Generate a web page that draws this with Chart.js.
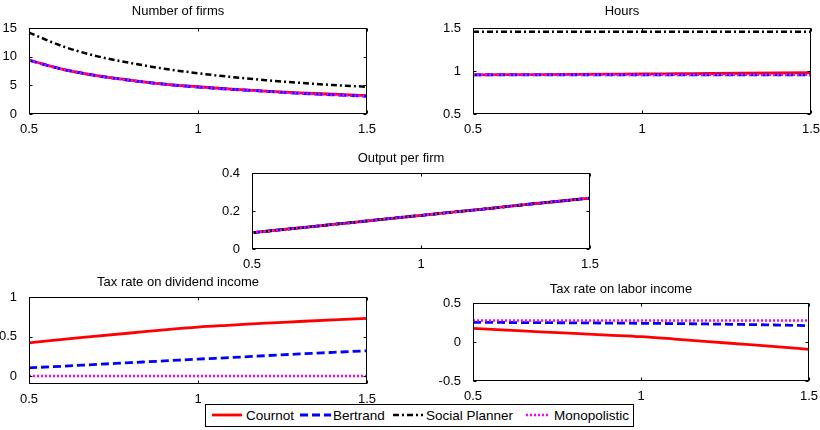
<!DOCTYPE html>
<html>
<head>
<meta charset="utf-8">
<script src="https://cdn.jsdelivr.net/npm/chart.js@4.4.0/dist/chart.umd.min.js"></script>
<style>
  body { margin: 0; background: #fff; width: 820px; height: 430px; position: relative; overflow: hidden;
         font-family: "Liberation Sans", Arial, sans-serif; }
  canvas { position: absolute; }
  #legend { position: absolute; left: 205px; top: 404px; width: 427px; height: 21px;
            border: 1px solid #000; font-size: 13.5px; color: #000; }
  #legend svg, #legend span { position: absolute; }
  #legend span { top: 3px; white-space: nowrap; }
  #legend svg { top: 5px; }
</style>
</head>
<body>
<div id="legend"></div>
<script>
// x grid shared by every panel (parameter from 0.5 to 1.5)
const xValues = [0.5, 0.6, 0.7, 0.8, 0.9, 1.0, 1.1, 1.2, 1.3, 1.4, 1.5];
const xTicks = [0.5, 1, 1.5];

// Number of firms
const firmsCournot = [9.4, 7.8, 6.7, 5.9, 5.2, 4.75, 4.35, 4.0, 3.7, 3.45, 3.2];
const firmsBertrand = [9.35, 7.8, 6.7, 5.85, 5.2, 4.7, 4.3, 3.95, 3.6, 3.35, 3.1];
const firmsPlanner = [14.2, 11.8, 10.1, 8.9, 7.9, 7.1, 6.45, 5.9, 5.45, 5.05, 4.75];
const firmsMonop = [9.35, 7.8, 6.7, 5.85, 5.2, 4.7, 4.3, 3.95, 3.6, 3.35, 3.1];
const firmsTicks = [0, 5, 10, 15];

// Hours
const hoursCournot = [0.955, 0.957, 0.959, 0.961, 0.963, 0.965, 0.968, 0.971, 0.974, 0.977, 0.98];
const hoursBertrand = [0.955, 0.955, 0.955, 0.955, 0.955, 0.955, 0.955, 0.955, 0.955, 0.955, 0.955];
const hoursPlanner = [1.455, 1.455, 1.455, 1.455, 1.455, 1.455, 1.455, 1.455, 1.455, 1.455, 1.455];
const hoursMonop = [0.955, 0.955, 0.955, 0.955, 0.955, 0.955, 0.955, 0.955, 0.955, 0.955, 0.955];
const hoursTicks = [0.5, 1, 1.5];

// Output per firm
const outputCournot = [0.086, 0.104, 0.122, 0.140, 0.159, 0.177, 0.195, 0.213, 0.232, 0.250, 0.268];
const outputBertrand = [0.086, 0.104, 0.122, 0.140, 0.159, 0.177, 0.195, 0.213, 0.232, 0.250, 0.268];
const outputPlanner = [0.086, 0.104, 0.122, 0.140, 0.159, 0.177, 0.195, 0.213, 0.232, 0.250, 0.268];
const outputMonop = [0.086, 0.104, 0.122, 0.140, 0.159, 0.177, 0.195, 0.213, 0.232, 0.250, 0.268];
const outputTicks = [0, 0.2, 0.4];

// Tax rate on dividend income
const divCournot = [0.42, 0.465, 0.505, 0.545, 0.585, 0.62, 0.645, 0.67, 0.69, 0.71, 0.73];
const divBertrand = [0.105, 0.125, 0.148, 0.17, 0.192, 0.215, 0.235, 0.258, 0.28, 0.30, 0.32];
const divMonop = [0, 0, 0, 0, 0, 0, 0, 0, 0, 0, 0];
const divTicks = [0, 0.5, 1];

// Tax rate on labor income
const laborCournot = [0.175, 0.153, 0.131, 0.11, 0.089, 0.068, 0.038, 0.006, -0.027, -0.06, -0.094];
const laborBertrand = [0.252, 0.25, 0.248, 0.246, 0.243, 0.24, 0.236, 0.231, 0.225, 0.218, 0.21];
const laborMonop = [0.275, 0.275, 0.275, 0.275, 0.275, 0.275, 0.275, 0.275, 0.275, 0.275, 0.275];
const laborTicks = [-0.5, 0, 0.5];

const styles = {
  'Cournot':        { color: '#ff0000', dash: [],           width: 2.8, order: 4 },
  'Bertrand':       { color: '#0000ff', dash: [8, 4],       width: 2.8, order: 3 },
  'Social Planner': { color: '#000000', dash: [6, 3, 2, 3], width: 2.5, order: 2 },
  'Monopolistic':   { color: '#ff00ff', dash: [2, 2],       width: 2.5, order: 1 }
};

const font = '"Liberation Sans", Arial, sans-serif';

// MATLAB-like box with inward ticks on all four sides
const boxPlugin = {
  id: 'matlabBox',
  afterDraw(chart) {
    const { ctx, chartArea: a, scales: { x, y } } = chart;
    ctx.save();
    ctx.strokeStyle = '#000';
    ctx.lineWidth = 1;
    const L = Math.round(a.left) + 0.5, R = Math.round(a.right) - 0.5;
    const T = Math.round(a.top) + 0.5, B = Math.round(a.bottom) - 0.5;
    ctx.strokeRect(L, T, R - L, B - T);
    ctx.beginPath();
    x.ticks.forEach(t => {
      const px = Math.round(x.getPixelForValue(t.value)) + 0.5;
      ctx.moveTo(px, B); ctx.lineTo(px, B - 3);
      ctx.moveTo(px, T); ctx.lineTo(px, T + 3);
    });
    y.ticks.forEach(t => {
      const py = Math.round(y.getPixelForValue(t.value)) + 0.5;
      ctx.moveTo(L, py); ctx.lineTo(L + 3, py);
      ctx.moveTo(R, py); ctx.lineTo(R - 3, py);
    });
    ctx.stroke();
    ctx.restore();
  }
};

function makeDataset(name, values) {
  const s = styles[name];
  return {
    label: name,
    data: xValues.map((x, i) => ({ x: x, y: values[i] })),
    borderColor: s.color,
    backgroundColor: s.color,
    borderDash: s.dash,
    borderWidth: s.width,
    order: s.order,
    pointRadius: 0,
    cubicInterpolationMode: 'monotone',
    fill: false
  };
}

function makePanel(p) {
  const padL = 40, padT = 30, padB = 20, padR = 14;
  const canvas = document.createElement('canvas');
  canvas.width = (p.right - p.left) + padL + padR;
  canvas.height = (p.bottom - p.top) + padT + padB;
  canvas.style.left = (p.left - padL) + 'px';
  canvas.style.top = (p.top - padT) + 'px';
  document.body.appendChild(canvas);

  return new Chart(canvas.getContext('2d'), {
    type: 'line',
    data: { datasets: p.series.map(([name, values]) => makeDataset(name, values)) },
    options: {
      responsive: false,
      animation: false,
      layout: { padding: { left: 0, right: padR, top: 0, bottom: 0 } },
      plugins: {
        legend: { display: false },
        tooltip: { enabled: false },
        title: {
          display: true,
          text: p.title,
          color: '#000',
          font: { family: font, size: 13, weight: 'normal', lineHeight: 1.2 },
          padding: { top: padT - 15.6 - p.titleGap, bottom: p.titleGap }
        }
      },
      scales: {
        x: {
          type: 'linear',
          min: 0.5,
          max: 1.5,
          grid: { display: false },
          border: { display: false },
          afterBuildTicks: scale => { scale.ticks = xTicks.map(v => ({ value: v })); },
          afterFit: scale => { scale.height = padB; },
          ticks: {
            color: '#000',
            padding: 0,
            maxRotation: 0,
            font: { family: font, size: 13 },
            callback: v => String(v)
          }
        },
        y: {
          type: 'linear',
          min: p.yMin,
          max: p.yMax,
          grid: { display: false },
          border: { display: false },
          afterBuildTicks: scale => { scale.ticks = p.yTicks.map(v => ({ value: v })); },
          afterFit: scale => { scale.width = padL; },
          ticks: {
            color: '#000',
            padding: 4,
            font: { family: font, size: 13 },
            callback: v => String(v)
          }
        }
      }
    },
    plugins: [boxPlugin]
  });
}

makePanel({
  title: 'Number of firms', left: 29, top: 28, right: 367, bottom: 114, titleGap: 8.5,
  yMin: 0, yMax: 15, yTicks: firmsTicks,
  series: [['Cournot', firmsCournot], ['Bertrand', firmsBertrand], ['Social Planner', firmsPlanner], ['Monopolistic', firmsMonop]]
});
makePanel({
  title: 'Hours', left: 473, top: 28, right: 811, bottom: 114, titleGap: 8.5,
  yMin: 0.5, yMax: 1.5, yTicks: hoursTicks,
  series: [['Cournot', hoursCournot], ['Bertrand', hoursBertrand], ['Social Planner', hoursPlanner], ['Monopolistic', hoursMonop]]
});
makePanel({
  title: 'Output per firm', left: 252, top: 173, right: 590, bottom: 249, titleGap: 7,
  yMin: 0, yMax: 0.4, yTicks: outputTicks,
  series: [['Cournot', outputCournot], ['Bertrand', outputBertrand], ['Social Planner', outputPlanner], ['Monopolistic', outputMonop]]
});
makePanel({
  title: 'Tax rate on dividend income', left: 29, top: 297, right: 367, bottom: 384, titleGap: 7,
  yMin: -0.1, yMax: 1, yTicks: divTicks,
  series: [['Cournot', divCournot], ['Bertrand', divBertrand], ['Monopolistic', divMonop]]
});
makePanel({
  title: 'Tax rate on labor income', left: 473, top: 303, right: 809, bottom: 381, titleGap: 6,
  yMin: -0.5, yMax: 0.5, yTicks: laborTicks,
  series: [['Cournot', laborCournot], ['Bertrand', laborBertrand], ['Monopolistic', laborMonop]]
});

// legend (line samples drawn in svg, labels as text)
const legendLayout = [
  { name: 'Cournot',        sx: 6,   sw: 30, tx: 40 },
  { name: 'Bertrand',       sx: 94,  sw: 31, tx: 127 },
  { name: 'Social Planner', sx: 187, sw: 30, tx: 220 },
  { name: 'Monopolistic',   sx: 320, sw: 23, tx: 348 }
];
const legend = document.getElementById('legend');
legendLayout.forEach(item => {
  const s = styles[item.name];
  const svg = document.createElementNS('http://www.w3.org/2000/svg', 'svg');
  svg.setAttribute('width', item.sw);
  svg.setAttribute('height', 10);
  svg.style.left = item.sx + 'px';
  const line = document.createElementNS('http://www.w3.org/2000/svg', 'line');
  line.setAttribute('x1', 0); line.setAttribute('x2', item.sw);
  line.setAttribute('y1', 5); line.setAttribute('y2', 5);
  line.setAttribute('stroke', s.color);
  line.setAttribute('stroke-width', s.width);
  if (s.dash.length) line.setAttribute('stroke-dasharray', s.dash.join(' '));
  svg.appendChild(line);
  legend.appendChild(svg);
  const span = document.createElement('span');
  span.textContent = item.name;
  span.style.left = item.tx + 'px';
  legend.appendChild(span);
});
</script>
</body>
</html>
